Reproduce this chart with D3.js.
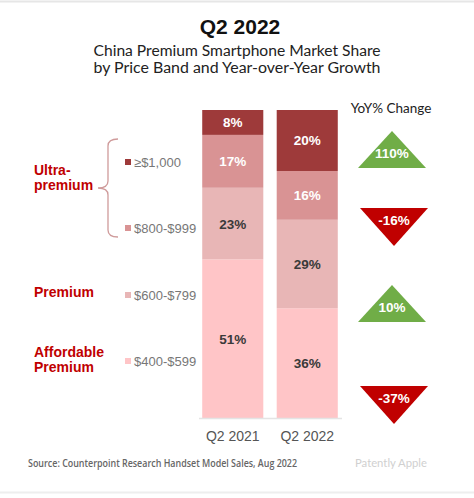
<!DOCTYPE html>
<html><head><meta charset="utf-8">
<script src="https://cdn.jsdelivr.net/npm/d3@7"></script>
<style>html,body{margin:0;padding:0;background:#fff;}svg{display:block;}</style>
</head><body>
<script>
const periods = ["Q2 2021", "Q2 2022"];
const bands = ["$400-$599", "$600-$799", "$800-$999", "≥$1,000"];
const legendLabels = ["≥$1,000", "$800-$999", "$600-$799", "$400-$599"];
const share2021 = [51, 23, 17, 8];
const share2022 = [36, 29, 16, 20];
const yoyChange = [110, -16, 10, -37];
const bandColors = ["#ffc5c7", "#e8b6b6", "#d99394", "#9e3a3a"];
const labelColors = ["#3a3a3a", "#3a3a3a", "#ffffff", "#ffffff"];

const W = 474, H = 498;
const svg = d3.select("body").append("svg").attr("width", W).attr("height", H);

// frame lines
svg.append("line").attr("x1",0).attr("x2",W).attr("y1",1.5).attr("y2",1.5).attr("stroke","#e6e6e6").attr("stroke-width",2);
svg.append("line").attr("x1",0).attr("x2",W).attr("y1",492.5).attr("y2",492.5).attr("stroke","#eeeeee").attr("stroke-width",2);

// titles
svg.append("text").attr("x",240).attr("y",34).attr("text-anchor","middle")
  .attr("font-family","Liberation Sans, Arial, sans-serif").attr("font-weight","bold").attr("font-size",21).attr("fill","#111").text("Q2 2022");
const sub = ["China Premium Smartphone Market Share","by Price Band and Year-over-Year Growth"];
sub.forEach((s,i)=> svg.append("text").attr("x",237).attr("y",56+i*16.5).attr("text-anchor","middle")
  .attr("font-family","Lato, 'DejaVu Sans', sans-serif").attr("font-size",15.5).attr("fill","#222").attr("textLength",287).attr("lengthAdjust","spacingAndGlyphs").text(s));

// data table
const table = periods.map((p,i)=>{
  const vals = i===0 ? share2021 : share2022;
  const o = {period:p};
  bands.forEach((b,j)=> o[b]=vals[j]);
  return o;
});
const stack = d3.stack().keys(bands).offset(d3.stackOffsetExpand);
const series = stack(table);

const x = d3.scaleBand().domain(periods).range([198.5, 341.5]).paddingInner(0.18).paddingOuter(0.05);
const y = d3.scaleLinear().domain([0,1]).range([418, 110]);

const g = svg.append("g");
series.forEach((s,k)=>{
  g.selectAll(null).data(s).enter().append("rect")
    .attr("x", d=>x(d.data.period)).attr("width", x.bandwidth())
    .attr("y", d=>y(d[1])).attr("height", d=>y(d[0])-y(d[1]))
    .attr("fill", bandColors[k]);
  g.selectAll(null).data(s).enter().append("text")
    .attr("x", d=>x(d.data.period)+x.bandwidth()/2)
    .attr("y", d=>(y(d[0])+y(d[1]))/2+5)
    .attr("text-anchor","middle").attr("font-family","Liberation Sans, Arial, sans-serif")
    .attr("font-weight","bold").attr("font-size",13.5).attr("fill",labelColors[k])
    .text(d=>d.data[s.key]+"%");
});

// axis
const xAxis = d3.axisBottom(x).tickSize(0).tickPadding(10);
const ax = svg.append("g").attr("transform","translate(0,418)").call(xAxis);
ax.select(".domain").attr("stroke","#e4e4e4").attr("stroke-width",1.5);
ax.selectAll("text").attr("font-family","Liberation Sans, Arial, sans-serif").attr("font-size",14).attr("fill","#555").attr("dy","0.9em");

// legend
const legendY = [162, 228, 295, 361];
legendLabels.forEach((l,i)=>{
  const col = bandColors[3-i];
  svg.append("rect").attr("x",125).attr("y",legendY[i]-3).attr("width",6).attr("height",6).attr("fill",col);
  svg.append("text").attr("x",134).attr("y",legendY[i]+4.5).attr("font-family","Liberation Sans, Arial, sans-serif")
    .attr("font-size",13).attr("fill","#777").text(l);
});

// category labels
const red = "#c00000";
const cat = [{t:["Ultra-","premium"],y:175},{t:["Premium"],y:297},{t:["Affordable","Premium"],y:357}];
cat.forEach(c=> c.t.forEach((t,i)=> svg.append("text").attr("x",34).attr("y",c.y+i*14.5)
  .attr("font-family","Liberation Sans, Arial, sans-serif").attr("font-weight","bold").attr("font-size",14).attr("fill",red).text(t)));

// brace
svg.append("path").attr("d","M118,139 Q108,139 108,146 L108,181 Q108,188 98,188 Q108,188 108,195 L108,230 Q108,237 118,237")
  .attr("fill","none").attr("stroke","#cf9b9b").attr("stroke-width",1.3);

// YoY
svg.append("text").attr("x",391).attr("y",113).attr("text-anchor","middle")
  .attr("font-family","Lato, 'DejaVu Sans', sans-serif").attr("font-size",13.5).attr("fill","#222").text("YoY% Change");
const triY = [131, 208, 285, 386];
yoyChange.forEach((v,i)=>{
  const up = v>=0, top = triY[i], cx = up?392:394, h = up?37:38, hw = 34;
  const pts = up ? [[cx,top],[cx+hw,top+h],[cx-hw,top+h]] : [[cx-hw,top],[cx+hw,top],[cx,top+h]];
  svg.append("path").attr("d", d3.line()(pts)+"Z").attr("fill", up?"#70ad47":"#c00000");
  svg.append("text").attr("x",cx).attr("y", up? top+27 : top+17).attr("text-anchor","middle")
    .attr("font-family","Liberation Sans, Arial, sans-serif").attr("font-weight","bold").attr("font-size",13.5).attr("fill","#fff")
    .text(v+"%");
});

// source
svg.append("text").attr("x",28).attr("y",467).attr("font-family","'Open Sans', sans-serif").attr("font-weight","600")
  .attr("font-size",10).attr("fill","#666").attr("textLength",269).attr("lengthAdjust","spacingAndGlyphs")
  .text("Source: Counterpoint Research Handset Model Sales, Aug 2022");
svg.append("text").attr("x",355).attr("y",467).attr("font-family","Lato, sans-serif")
  .attr("font-size",11.5).attr("fill","#d0d0d0").attr("textLength",72).attr("lengthAdjust","spacingAndGlyphs").text("Patently Apple");
</script>
</body></html>
